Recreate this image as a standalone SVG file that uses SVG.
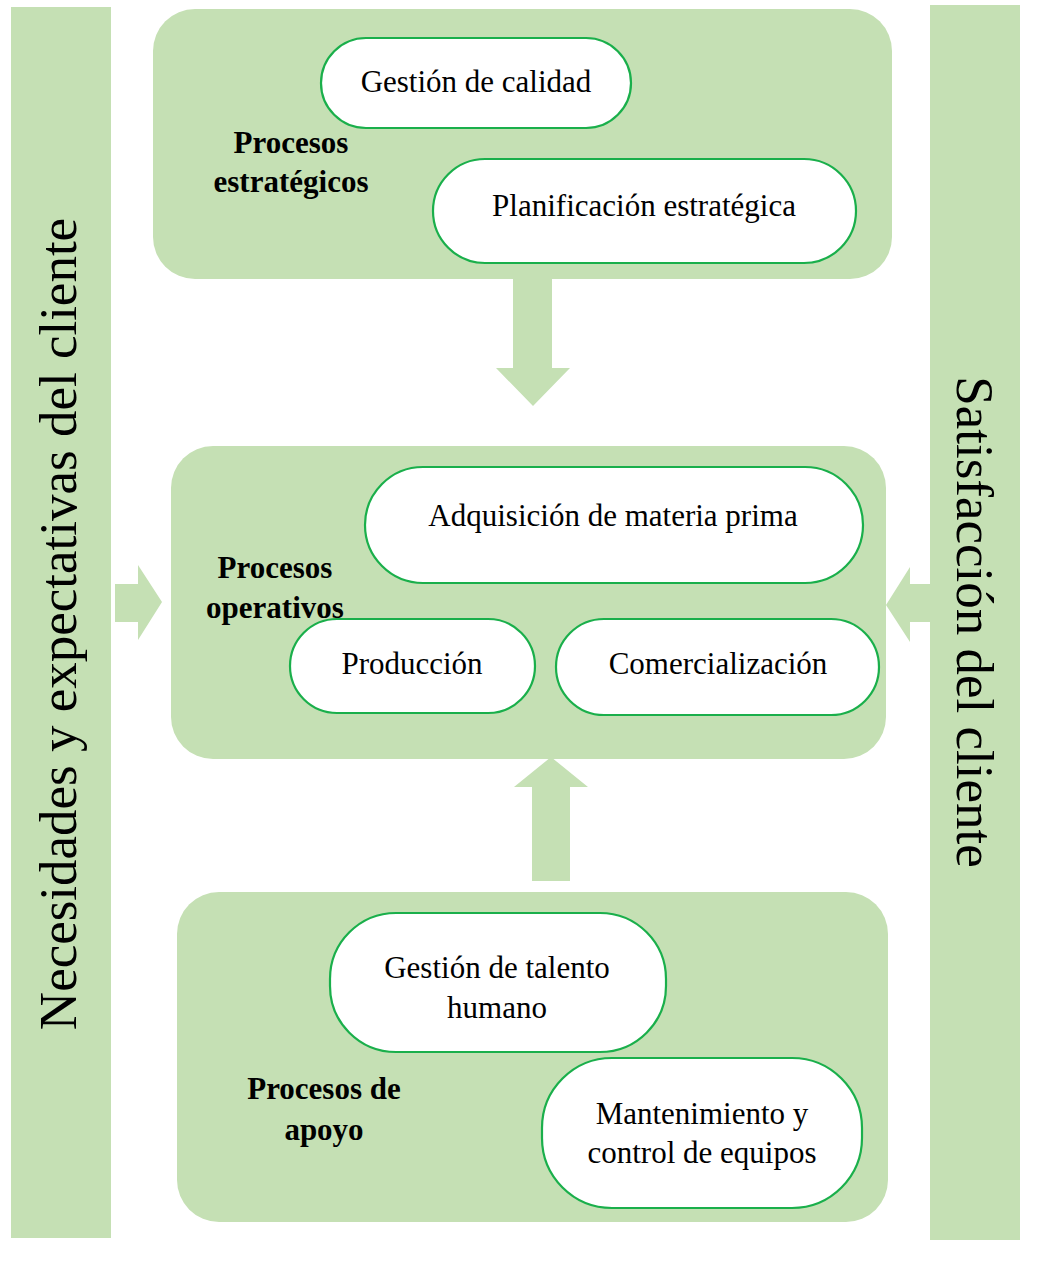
<svg xmlns="http://www.w3.org/2000/svg" width="1038" height="1281" viewBox="0 0 1038 1281">
<style>
.bg{fill:#C5E0B4}
.node{fill:#fff;stroke:#1AAF4B;stroke-width:2.2}
.t{font-family:"Liberation Serif",serif;font-size:31px;fill:#000;text-anchor:middle}
.b{font-weight:bold;font-size:31px}
.v{font-family:"Liberation Serif",serif;font-size:53px;fill:#000;text-anchor:middle}
</style>
<rect width="1038" height="1281" fill="#fff"/>
<g id="left-bar"><rect class="bg" x="11" y="7" width="100" height="1231"/>
<text class="v" transform="translate(76,624) rotate(-90)">Necesidades y expectativas del cliente</text></g>
<g id="right-bar"><rect class="bg" x="930" y="5" width="90" height="1235"/>
<text class="v" transform="translate(957,622) rotate(90)">Satisfacción del cliente</text></g>
<g id="estrategicos"><rect class="bg" x="153" y="9" width="739" height="270" rx="42"/>
<text class="t b" x="291" y="153">Procesos</text><text class="t b" x="291" y="192">estratégicos</text></g>
<g id="operativos"><rect class="bg" x="171" y="446" width="715" height="313" rx="42"/>
<text class="t b" x="275" y="578">Procesos</text><text class="t b" x="275" y="618">operativos</text></g>
<g id="apoyo"><rect class="bg" x="177" y="892" width="711" height="330" rx="42"/>
<text class="t b" x="324" y="1099">Procesos de</text><text class="t b" x="324" y="1140">apoyo</text></g>
<g id="connectors" class="bg">
<polygon points="513,279 552,279 552,368 570,368 533,406 496,368 513,368"/>
<polygon points="551,757 588,787 570,787 570,881 532,881 532,787 514,787"/>
<polygon points="115,584 138,584 138,565 162,602 138,640 138,622 115,622"/>
<polygon points="930,584 910,584 910,567 886,605 910,642 910,622 930,622"/>
</g>
<g id="gestion-calidad"><rect class="node" x="321" y="38" width="310" height="90" rx="45"/><text class="t" x="476" y="92">Gestión de calidad</text></g>
<g id="planificacion"><rect class="node" x="433" y="159" width="423" height="104" rx="52"/><text class="t" x="644" y="216">Planificación estratégica</text></g>
<g id="adquisicion"><rect class="node" x="365" y="467" width="498" height="116" rx="58"/><text class="t" x="613" y="526">Adquisición de materia prima</text></g>
<g id="produccion"><rect class="node" x="290" y="619" width="245" height="94" rx="47"/><text class="t" x="412" y="674">Producción</text></g>
<g id="comercializacion"><rect class="node" x="556" y="619" width="323" height="96" rx="48"/><text class="t" x="718" y="674">Comercialización</text></g>
<g id="talento"><rect class="node" x="330" y="913" width="336" height="139" rx="66"/><text class="t" x="497" y="978">Gestión de talento</text><text class="t" x="497" y="1018">humano</text></g>
<g id="mantenimiento"><rect class="node" x="542" y="1058" width="320" height="150" rx="70"/><text class="t" x="702" y="1124">Mantenimiento y</text><text class="t" x="702" y="1163">control de equipos</text></g>
</svg>
